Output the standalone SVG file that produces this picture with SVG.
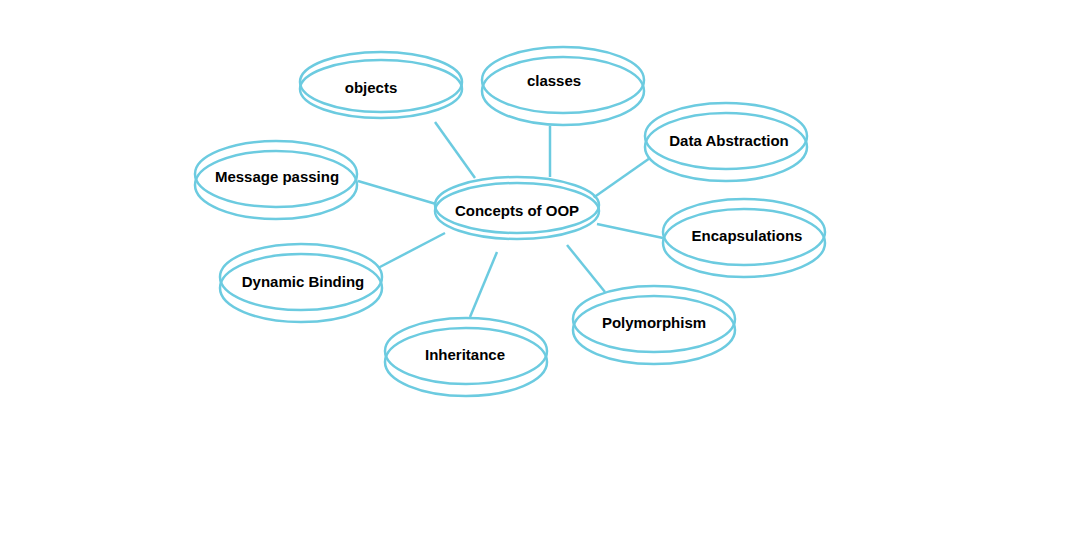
<svg xmlns="http://www.w3.org/2000/svg" width="1089" height="537" viewBox="0 0 1089 537">
<style>
ellipse{fill:none;stroke:#6ccbe0;stroke-width:2.5}
.bg{fill:#fff;stroke:none}
line{stroke:#6ccbe0;stroke-width:2.5}
text{font-family:"Liberation Sans",Arial,sans-serif;font-weight:bold;font-size:15px;text-anchor:middle;fill:#000}
</style>
<rect width="1089" height="537" fill="#fff"/>
<g id="connectors">
<line x1="435" y1="122" x2="475" y2="178"/>
<line x1="550" y1="126" x2="550" y2="177"/>
<line x1="650" y1="158" x2="593" y2="198"/>
<line x1="358" y1="181" x2="436" y2="204"/>
<line x1="597" y1="224" x2="663" y2="238"/>
<line x1="378" y1="268" x2="445" y2="233"/>
<line x1="567" y1="245" x2="605" y2="292"/>
<line x1="497" y1="252" x2="470" y2="317"/>
</g>
<g id="center"><ellipse class="bg" cx="517" cy="208" rx="82" ry="30"/><ellipse cx="517" cy="205" rx="82" ry="28"/><ellipse cx="517" cy="211" rx="82" ry="28"/><text x="517" y="216">Concepts of OOP</text></g>
<g id="objects"><ellipse class="bg" cx="381" cy="85" rx="81" ry="33"/><ellipse cx="381" cy="82" rx="81" ry="30"/><ellipse cx="381" cy="89" rx="81" ry="29"/><text x="371" y="93">objects</text></g>
<g id="classes"><ellipse class="bg" cx="563" cy="86" rx="81" ry="40"/><ellipse cx="563" cy="80" rx="81" ry="33"/><ellipse cx="563" cy="91" rx="81" ry="34"/><text x="554" y="86">classes</text></g>
<g id="data"><ellipse cx="726" cy="136" rx="81" ry="33"/><ellipse cx="726" cy="147" rx="81" ry="34"/><text x="729" y="146">Data Abstraction</text></g>
<g id="message"><ellipse cx="276" cy="174" rx="81" ry="33"/><ellipse cx="276" cy="185" rx="81" ry="34"/><text x="277" y="182">Message passing</text></g>
<g id="encap"><ellipse cx="744" cy="232" rx="81" ry="33"/><ellipse cx="744" cy="243" rx="81" ry="34"/><text x="747" y="241">Encapsulations</text></g>
<g id="dynamic"><ellipse cx="301" cy="277" rx="81" ry="33"/><ellipse cx="301" cy="288" rx="81" ry="34"/><text x="303" y="287">Dynamic Binding</text></g>
<g id="poly"><ellipse cx="654" cy="319" rx="81" ry="33"/><ellipse cx="654" cy="330" rx="81" ry="34"/><text x="654" y="328">Polymorphism</text></g>
<g id="inherit"><ellipse cx="466" cy="351" rx="81" ry="33"/><ellipse cx="466" cy="362" rx="81" ry="34"/><text x="465" y="360">Inheritance</text></g>
</svg>
